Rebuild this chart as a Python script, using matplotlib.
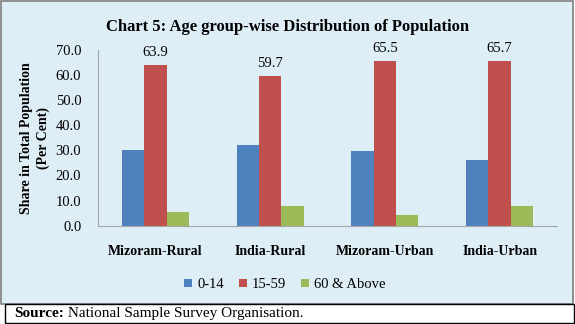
import matplotlib.pyplot as plt
import numpy as np
from matplotlib.patches import Rectangle

plt.rcParams['font.family'] = ['Liberation Serif', 'DejaVu Serif']

categories = ['Mizoram-Rural', 'India-Rural', 'Mizoram-Urban', 'India-Urban']
age_0_14 = [30.3, 32.3, 29.7, 26.2]
age_15_59 = [63.9, 59.7, 65.5, 65.7]
age_60_up = [5.4, 7.7, 4.4, 7.7]
series = [('0-14', age_0_14, '#4F81BD'),
          ('15-59', age_15_59, '#C0504D'),
          ('60 & Above', age_60_up, '#9BBB59')]

fig = plt.figure(figsize=(5.75, 3.24), dpi=100)
fig.patch.set_facecolor('white')

# chart area box and source box underneath
fig.patches.append(Rectangle((0.001, 0.062), 0.996, 0.936, transform=fig.transFigure,
                             facecolor='#DDEEF6', edgecolor='#7F7F7F', lw=1.2, zorder=-5))
fig.patches.append(Rectangle((0.008, 0.003), 0.99, 0.058, transform=fig.transFigure,
                             facecolor='white', edgecolor='black', lw=1.0, zorder=-5))

ax = fig.add_axes([0.1704, 0.3034, 0.7983, 0.5423])
ax.set_facecolor('none')

x = np.arange(len(categories))
w = 0.195
for i, (name, vals, col) in enumerate(series):
    ax.bar(x + (i - 1) * w, vals, w, color=col, label=name, zorder=2)

# value labels for the working-age group
for xi, v in zip(x, age_15_59):
    ax.text(xi, v + 2.5, f'{v:.1f}', ha='center', va='bottom', fontsize=10.5)

ax.set_xlim(-0.5, len(categories) - 0.5)
ax.set_ylim(0, 70)
ax.set_yticks(np.arange(0, 71, 10))
ax.set_yticklabels([f'{t:.1f}' for t in range(0, 71, 10)], fontsize=10.5)
ax.set_xticks(x)
ax.set_xticklabels(categories, fontsize=10, fontweight='bold')
ax.tick_params(axis='x', length=0, pad=14)
ax.tick_params(axis='y', length=0, pad=12)
for s in ['top', 'right']:
    ax.spines[s].set_visible(False)
ax.spines['left'].set_color('#A6A6A6')
ax.spines['bottom'].set_color('#A6A6A6')
ax.set_ylabel('Share in Total Population\n(Per Cent)', fontsize=10, fontweight='bold',
              linespacing=1.35, labelpad=4)

fig.text(0.5, 0.918, 'Chart 5: Age group-wise Distribution of Population',
         ha='center', va='center', fontsize=12, fontweight='bold')

ax.legend(loc='center', bbox_to_anchor=(0.407, -0.335), ncol=3, frameon=False,
          prop={'family': 'Liberation Serif', 'size': 10.5},
          handlelength=0.55, handleheight=0.55, handletextpad=0.35,
          columnspacing=1.0)

src = fig.text(0.024, 0.032, 'Source:', ha='left', va='center',
               fontsize=11, fontweight='bold')
fig.add_artist(plt.Annotation(' National Sample Survey Organisation.', xy=(1, 0.5),
                              xycoords=src, ha='left', va='center', fontsize=11))

fig.savefig('out.png', dpi=100)
